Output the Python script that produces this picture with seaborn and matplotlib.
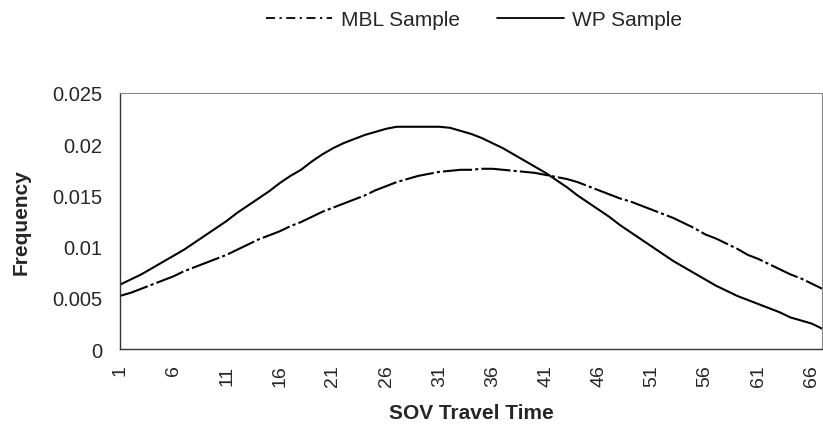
import matplotlib
matplotlib.use("Agg")
import matplotlib.pyplot as plt
from matplotlib.lines import Line2D
import seaborn as sns
import pandas as pd

# SOV travel time categories 1..67
travel_time = list(range(1, 68))

wp_sample = [6.3, 6.8, 7.3, 7.9, 8.5, 9.1, 9.7, 10.4, 11.1, 11.8,
             12.5, 13.3, 14.0, 14.7, 15.4, 16.2, 16.9, 17.5, 18.3, 19.0,
             19.6, 20.1, 20.5, 20.9, 21.2, 21.5, 21.7, 21.7, 21.7, 21.7,
             21.7, 21.6, 21.3, 21.0, 20.6, 20.1, 19.6, 19.0, 18.4, 17.8,
             17.2, 16.5, 15.8, 15.0, 14.3, 13.6, 12.9, 12.1, 11.4, 10.7,
             10.0, 9.3, 8.6, 8.0, 7.4, 6.8, 6.2, 5.7, 5.2, 4.8,
             4.4, 4.0, 3.6, 3.1, 2.8, 2.5, 2.0]
wp_sample = [v / 1000 for v in wp_sample]

mbl_sample = [5.2, 5.5, 5.9, 6.3, 6.7, 7.1, 7.6, 8.0, 8.4, 8.8,
              9.2, 9.7, 10.2, 10.7, 11.1, 11.5, 12.0, 12.4, 12.9, 13.4,
              13.8, 14.2, 14.6, 15.0, 15.5, 15.9, 16.3, 16.6, 16.9, 17.1,
              17.3, 17.4, 17.5, 17.5, 17.6, 17.6, 17.5, 17.4, 17.3, 17.2,
              17.0, 16.8, 16.6, 16.3, 15.9, 15.5, 15.1, 14.7, 14.4, 14.0,
              13.6, 13.2, 12.8, 12.3, 11.8, 11.2, 10.8, 10.3, 9.8, 9.2,
              8.8, 8.3, 7.8, 7.3, 6.9, 6.4, 5.9]
mbl_sample = [v / 1000 for v in mbl_sample]

series_names = ["MBL Sample", "WP Sample"]
y_ticks = [0, 0.005, 0.01, 0.015, 0.02, 0.025]
y_tick_labels = ["0", "0.005", "0.01", "0.015", "0.02", "0.025"]
x_tick_labels = [1, 6, 11, 16, 21, 26, 31, 36, 41, 46, 51, 56, 61, 66]

sns.set_style("white")
plt.rcParams['font.family'] = ['Liberation Sans', 'DejaVu Sans']

df = pd.DataFrame({
    "SOV Travel Time": travel_time * 2,
    "Frequency": mbl_sample + wp_sample,
    "Sample": [series_names[0]] * len(travel_time) + [series_names[1]] * len(travel_time),
})

fig = plt.figure(figsize=(8.23, 4.27), dpi=100)
ax = fig.add_axes([0.146, 0.18, 0.853, 0.60])

sns.lineplot(data=df[df["Sample"] == series_names[0]], x="SOV Travel Time", y="Frequency",
             ax=ax, color="black", linewidth=1.5, legend=False)
sns.lineplot(data=df[df["Sample"] == series_names[1]], x="SOV Travel Time", y="Frequency",
             ax=ax, color="black", linewidth=1.5, legend=False)
ax.lines[0].set_linestyle((0, (14, 1.5, 1.5, 1.5)))

ax.set_xlim(1, 67)
ax.set_ylim(0, 0.025)
ax.set_yticks(y_ticks)
ax.set_yticklabels(y_tick_labels, fontsize=14.5)
ax.set_xticks(x_tick_labels)
ax.set_xticklabels([str(v) for v in x_tick_labels], rotation=90, fontsize=14)
ax.set_xticks(travel_time, minor=True)
ax.tick_params(axis="x", which="major", length=3, width=0.6, color="#555555", pad=8)
ax.tick_params(axis="x", which="minor", length=2, width=0.5, color="#777777")
ax.tick_params(axis="y", length=3, width=0.6, color="#555555", pad=10)

ax.set_xlabel("SOV Travel Time", fontsize=15, fontweight="bold")
ax.set_ylabel("Frequency", fontsize=15, fontweight="bold")
ax.xaxis.set_label_coords(0.501, -0.212)
ax.yaxis.set_label_coords(-0.128, 0.5)

for side in ["left", "bottom"]:
    ax.spines[side].set_color("#333333")
    ax.spines[side].set_linewidth(1.0)
for side in ["top", "right"]:
    ax.spines[side].set_color("#888888")
    ax.spines[side].set_linewidth(0.8)

handles = [
    Line2D([], [], color="black", linewidth=1.3, linestyle=(0, (5, 2.5, 1.2, 2.5))),
    Line2D([], [], color="black", linewidth=1.3, linestyle="-"),
]
fig.legend(handles, series_names, loc="center", bbox_to_anchor=(0.576, 0.952), ncol=2,
           frameon=False, fontsize=15, handlelength=3.2, columnspacing=1.8,
           handletextpad=0.4)

fig.savefig("out.png", dpi=100)
